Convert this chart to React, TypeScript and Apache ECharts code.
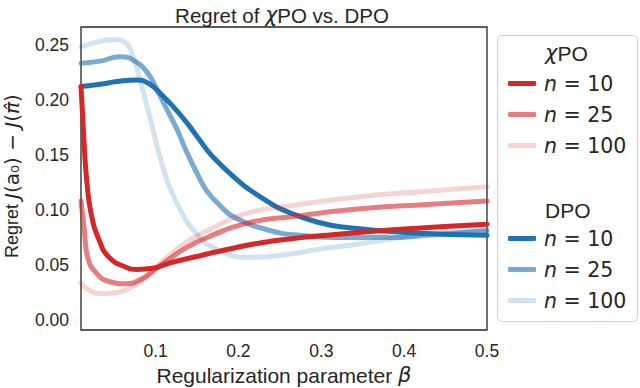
import React, { useEffect, useRef } from "react";
import * as echarts from "echarts";

// χPO curves
const chiX10 = [0.01, 0.012, 0.014, 0.0169, 0.0221, 0.0317, 0.0438, 0.0643, 0.078, 0.0969, 0.1174, 0.1452, 0.1862, 0.226, 0.2659, 0.3069, 0.3865, 0.5];
const chiY10 = [0.212, 0.185, 0.157, 0.127, 0.097, 0.073, 0.057, 0.048, 0.046, 0.047, 0.052, 0.057, 0.064, 0.07, 0.074, 0.077, 0.082, 0.087];
const chiX25 = [0.01, 0.014, 0.0181, 0.0281, 0.0438, 0.0643, 0.0848, 0.0993, 0.1138, 0.1379, 0.1621, 0.2103, 0.2659, 0.3467, 0.4276, 0.5];
const chiY25 = [0.108, 0.082, 0.057, 0.043, 0.035, 0.033, 0.038, 0.046, 0.054, 0.066, 0.075, 0.088, 0.094, 0.101, 0.105, 0.108];
const chiX100 = [0.01, 0.0197, 0.0366, 0.0534, 0.0691, 0.0848, 0.0993, 0.1138, 0.1379, 0.1621, 0.2103, 0.2659, 0.3467, 0.4276, 0.5];
const chiY100 = [0.034, 0.027, 0.024, 0.025, 0.029, 0.037, 0.047, 0.057, 0.071, 0.081, 0.097, 0.104, 0.112, 0.117, 0.121];

// DPO curves
const dpoX10 = [0.01, 0.0329, 0.0534, 0.0776, 0.0933, 0.1053, 0.121, 0.1379, 0.1536, 0.1693, 0.2019, 0.214, 0.2345, 0.2538, 0.2948, 0.331, 0.4107, 0.5];
const dpoY10 = [0.212, 0.214, 0.2165, 0.218, 0.214, 0.206, 0.194, 0.179, 0.163, 0.148, 0.125, 0.118, 0.108, 0.1, 0.089, 0.084, 0.079, 0.077];
const dpoX25 = [0.01, 0.0329, 0.0571, 0.0728, 0.0897, 0.1017, 0.1138, 0.1259, 0.1379, 0.1536, 0.1621, 0.1778, 0.1934, 0.2345, 0.2743, 0.3346, 0.3865, 0.4276, 0.5];
const dpoY25 = [0.233, 0.235, 0.239, 0.236, 0.225, 0.209, 0.191, 0.173, 0.152, 0.128, 0.117, 0.104, 0.094, 0.082, 0.077, 0.075, 0.075, 0.077, 0.081];
const dpoX100 = [0.01, 0.0329, 0.0486, 0.0631, 0.0728, 0.0812, 0.0897, 0.0969, 0.1029, 0.1138, 0.1259, 0.1452, 0.1741, 0.214, 0.2538, 0.2948, 0.3346, 0.3865, 0.4276, 0.5];
const dpoY100 = [0.248, 0.253, 0.2545, 0.252, 0.239, 0.218, 0.194, 0.173, 0.155, 0.127, 0.106, 0.082, 0.064, 0.057, 0.059, 0.064, 0.068, 0.074, 0.079, 0.083];

const xTicks = [0.1, 0.2, 0.3, 0.4, 0.5];
const yTicks = [0, 0.05, 0.1, 0.15, 0.2, 0.25];
const sampleSizes = [10, 25, 100];

const RED = "214,39,40";
const BLUE = "31,114,180";
const ALPHAS = [1, 0.6, 0.2];

const pairs = (xs: number[], ys: number[]) => xs.map((x, i) => [x, ys[i]]);

export default function App() {
  const ref = useRef<HTMLDivElement>(null);
  useEffect(() => {
    if (!ref.current) return;
    const chart = echarts.init(ref.current, null, { renderer: "svg" });
    const chiData = [pairs(chiX10, chiY10), pairs(chiX25, chiY25), pairs(chiX100, chiY100)];
    const dpoData = [pairs(dpoX10, dpoY10), pairs(dpoX25, dpoY25), pairs(dpoX100, dpoY100)];
    const mk = (name: string, data: number[][], rgb: string, a: number) => ({
      name,
      type: "line",
      data,
      showSymbol: false,
      symbol: "none",
      smooth: true,
      color: `rgba(${rgb},${a})`,
      lineStyle: { width: 5, color: `rgba(${rgb},${a})`, cap: "round", join: "round" },
      emphasis: { disabled: true },
    });
    const chiNames = sampleSizes.map((n) => `χPO n=${n}`);
    const dpoNames = sampleSizes.map((n) => `DPO n=${n}`);
    const series = [
      ...dpoData.map((d, i) => mk(dpoNames[i], d, BLUE, ALPHAS[i])),
      ...chiData.map((d, i) => mk(chiNames[i], d, RED, ALPHAS[i])),
    ];
    const legendBase = {
      orient: "vertical",
      left: 503,
      itemWidth: 28,
      itemHeight: 5,
      itemGap: 10,
      icon: "roundRect",
      selectedMode: false,
      formatter: (name: string) => `{i|n} = ${name.split("=")[1]}`,
      textStyle: {
        fontFamily: "DejaVu Sans",
        fontSize: 20.5,
        color: "#262626",
        padding: [0, 0, 0, 3],
        rich: {
          i: { fontStyle: "italic", fontFamily: "DejaVu Sans", fontSize: 20.5, color: "#262626" },
        },
      },
    };
    const ink = "#262626";
    chart.setOption({
      animation: false,
      backgroundColor: "#ffffff",
      grid: {
        left: 81,
        top: 27,
        width: 406,
        height: 303,
        show: true,
        borderColor: ink,
        borderWidth: 1.3,
        backgroundColor: "transparent",
        outerBoundsMode: "none",
        containLabel: false,
      },
      xAxis: {
        type: "value",
        min: 0.01,
        max: 0.5,
        name: "Regularization parameter {b|β}",
        nameLocation: "middle",
        nameGap: 33,
        nameTextStyle: {
          fontFamily: "Liberation Sans",
          fontSize: 21,
          color: ink,
          rich: { b: { fontFamily: "DejaVu Sans", fontStyle: "italic", fontSize: 21, color: ink } },
        },
        axisLine: { show: false },
        axisTick: { show: false },
        splitLine: { show: false },
        axisLabel: {
          customValues: xTicks,
          formatter: (v: number) => v.toFixed(1),
          fontFamily: "Liberation Sans",
          fontSize: 17.5,
          color: ink,
          margin: 12,
          showMaxLabel: true,
        },
      },
      yAxis: {
        type: "value",
        min: -0.009,
        max: 0.266,
        name: "{r|Regret }{j|J}{m|(a₀) − }{j|J}{m|(}{j|π̂}{m|)}",
        nameLocation: "middle",
        nameRotate: 90,
        nameGap: 59,
        nameTextStyle: {
          fontFamily: "Liberation Sans",
          fontSize: 18,
          color: ink,
          padding: [0, 0, 0, 5],
          rich: {
            r: { fontFamily: "Liberation Sans", fontSize: 18, color: ink },
            m: { fontFamily: "DejaVu Sans", fontSize: 20, color: ink },
            j: { fontFamily: "DejaVu Sans", fontStyle: "italic", fontSize: 20, color: ink },
          },
        },
        axisLine: { show: false },
        axisTick: { show: false },
        splitLine: { show: false },
        axisLabel: {
          customValues: yTicks,
          formatter: (v: number) => v.toFixed(2),
          fontFamily: "Liberation Sans",
          fontSize: 17.5,
          color: ink,
          margin: 12,
        },
      },
      legend: [
        { ...legendBase, top: 68, data: chiNames },
        { ...legendBase, top: 223, data: dpoNames },
      ],
      graphic: [
        {
          type: "text",
          z: 10,
          x: 282,
          y: 15,
          style: {
            text: "{t|Regret of }{c|χ}{t|PO vs. DPO}",
            align: "center",
            verticalAlign: "middle",
            fill: ink,
            rich: {
              t: { fontFamily: "Liberation Sans", fontSize: 20.5, fill: ink },
              c: { fontFamily: "DejaVu Sans", fontStyle: "italic", fontSize: 20.5, fill: ink },
            },
          },
        },
        {
          type: "rect",
          z: 0,
          shape: { x: 497.5, y: 35.5, width: 140, height: 286, r: 4 },
          style: { fill: "rgba(255,255,255,0.8)", stroke: "#d0d0d0", lineWidth: 1 },
        },
        {
          type: "text",
          z: 10,
          x: 545,
          y: 53,
          style: {
            text: "{c|χ}{t|PO}",
            fill: ink,
            verticalAlign: "middle",
            rich: {
              t: { fontFamily: "Liberation Sans", fontSize: 21, fill: ink },
              c: { fontFamily: "DejaVu Sans", fontStyle: "italic", fontSize: 21, fill: ink },
            },
          },
        },
        {
          type: "text",
          z: 10,
          x: 545,
          y: 210,
          style: {
            text: "DPO",
            fontFamily: "Liberation Sans",
            fontSize: 21,
            fill: ink,
            verticalAlign: "middle",
          },
        },
      ],
      series,
    });
    return () => chart.dispose();
  }, []);
  return (
    <div
      ref={ref}
      style={{ position: "fixed", left: 0, top: 0, width: 640, height: 388, background: "#fff" }}
    />
  );
}
